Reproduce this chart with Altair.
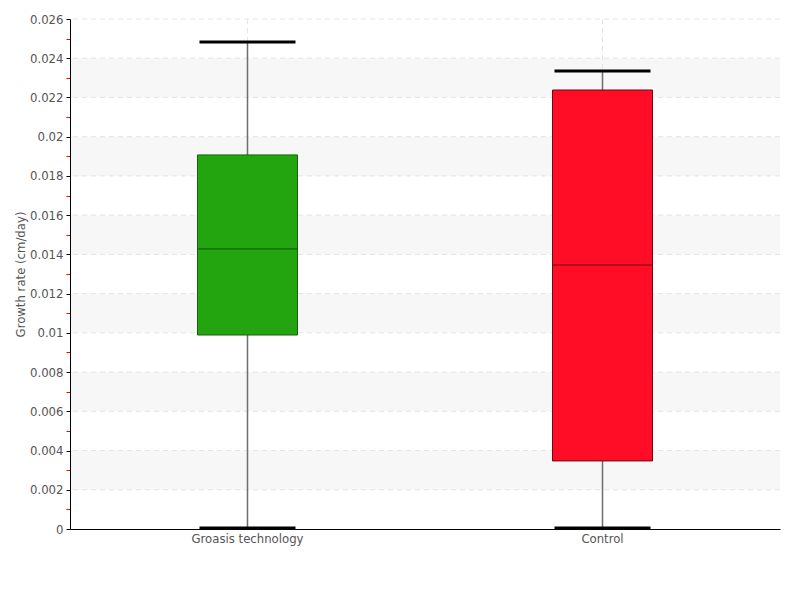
import altair as alt
import pandas as pd

categories = ["Groasis technology", "Control"]
lower = [0.00005, 0.00005]
q1 = [0.00989, 0.00347]
median = [0.01428, 0.01346]
q3 = [0.01907, 0.02238]
upper = [0.02483, 0.02335]
fill_colors = ["#22a50f", "#ff0d27"]
edge_colors = ["#1a5f10", "#6a0a14"]

band_start = [0.002, 0.006, 0.010, 0.014, 0.018, 0.022]
band_end = [0.004, 0.008, 0.012, 0.016, 0.020, 0.024]
grid_values = [0.002, 0.004, 0.006, 0.008, 0.010, 0.012, 0.014,
               0.016, 0.018, 0.020, 0.022, 0.024, 0.026]
tick_values = [i / 1000 for i in range(27)]

df = pd.DataFrame({
    "cat": categories, "lower": lower, "q1": q1, "median": median,
    "q3": q3, "upper": upper, "fill": fill_colors, "edge": edge_colors,
})
bands = pd.DataFrame({"s": band_start, "e": band_end})
grid = pd.DataFrame({"g": grid_values})

FONT = "'DejaVu Sans Condensed', 'Liberation Sans Narrow', Roboto, sans-serif"
even = "round(datum.value*1000) % 2 == 0"

yscale = alt.Scale(domain=[0, 0.026], nice=False, zero=True)
xscale = alt.Scale(domain=categories, paddingInner=0, paddingOuter=0)

yaxis = alt.Axis(
    values=tick_values, format="~g", labelOverlap=False,
    labelExpr=f"{even} ? datum.label : ''",
    tickColor={"condition": {"test": even, "value": "#000000"}, "value": "#ff0000"},
    tickSize=4, grid=False,
    domainColor="#000000", labelColor="#555555", labelFontSize=13,
    labelFont=FONT, title="Growth rate (cm/day)", titleFont=FONT,
    titleFontSize=13, titleFontWeight="normal", titleColor="#555555",
    titlePadding=2, labelPadding=3, zindex=1,
)
xaxis = alt.Axis(
    title=None, ticks=False, grid=False,
    domainColor="#000000", labelColor="#555555", labelFontSize=13,
    labelFont=FONT, labelAngle=0, labelPadding=3, zindex=1,
)

bg = alt.Chart(bands).mark_rect(color="#f7f7f7").encode(
    y=alt.Y("s:Q", scale=yscale, axis=yaxis), y2="e:Q"
)
hgrid = alt.Chart(grid).mark_rule(color="#e4e4e4", strokeDash=[5, 4], strokeWidth=1).encode(
    y=alt.Y("g:Q", scale=yscale, axis=yaxis)
)

base = alt.Chart(df).encode(
    x=alt.X("cat:N", scale=xscale, axis=xaxis, sort=categories)
)

vgrid = base.mark_rule(color="#e4e4e4", strokeDash=[5, 4], strokeWidth=1)

whisk = base.mark_rule(color="#6e6e6e", strokeWidth=1.5).encode(
    y=alt.Y("lower:Q", scale=yscale, axis=yaxis), y2="upper:Q"
)
box = base.mark_bar(size=100, strokeWidth=1, opacity=1).encode(
    y=alt.Y("q1:Q", scale=yscale, axis=yaxis), y2="q3:Q",
    fill=alt.Fill("fill:N", scale=None),
    stroke=alt.Stroke("edge:N", scale=None),
)
med = base.mark_tick(size=100, thickness=1.2, opacity=1).encode(
    y=alt.Y("median:Q", scale=yscale, axis=yaxis),
    color=alt.Color("edge:N", scale=None),
)
cap_hi = base.mark_tick(size=96, thickness=3, color="#000000", opacity=1).encode(
    y=alt.Y("upper:Q", scale=yscale, axis=yaxis)
)
cap_lo = base.mark_tick(size=96, thickness=3, color="#000000", opacity=1).encode(
    y=alt.Y("lower:Q", scale=yscale, axis=yaxis)
)

chart = alt.layer(bg, hgrid, vgrid, whisk, box, med, cap_hi, cap_lo).properties(
    width=710, height=510,
    padding={"left": 6, "top": 5, "right": 5, "bottom": 5},
).configure_view(stroke=None)

chart.save("out.html", embed_options={"renderer": "svg", "actions": False})
